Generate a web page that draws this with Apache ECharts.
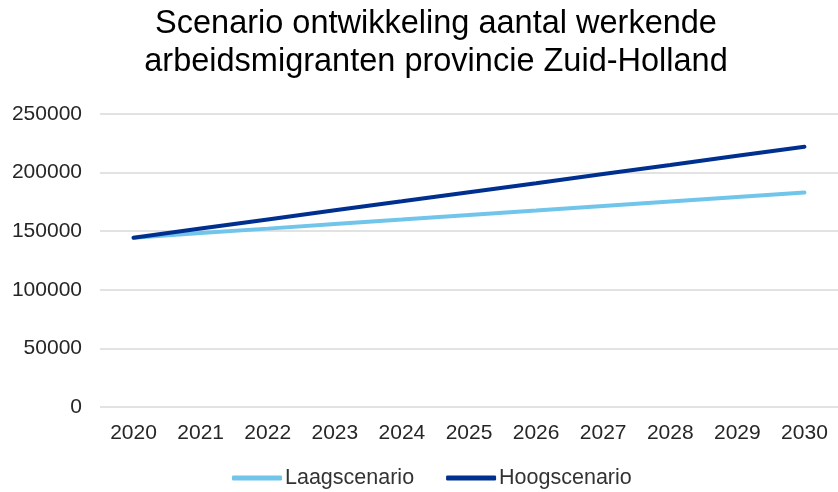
<!DOCTYPE html>
<html>
<head>
<meta charset="utf-8">
<script src="https://cdn.jsdelivr.net/npm/echarts@6/dist/echarts.min.js"></script>
<style>html,body{margin:0;padding:0;background:#fff}#c{width:838px;height:492px}</style>
</head>
<body>
<div id="c"></div>
<script>
const categories = ['2020','2021','2022','2023','2024','2025','2026','2027','2028','2029','2030'];
const laagscenario = [144500,148400,152200,156100,159900,163800,167600,171500,175300,179200,183000];
const hoogscenario = [144500,152300,160000,167800,175500,183300,191000,198800,206500,214300,222000];
const yTicks = [0,50000,100000,150000,200000,250000];

const chart = echarts.init(document.getElementById('c'));
const font = '"Liberation Sans", Arial, sans-serif';
chart.setOption({
  animation:false,
  title:{
    text:'Scenario ontwikkeling aantal werkende\narbeidsmigranten provincie Zuid-Holland',
    left: 431, textAlign:'center', top:0,
    textStyle:{fontFamily:font,fontSize:32.5,fontWeight:'normal',color:'#000',lineHeight:38}
  },
  legend:{
    top:462, left:227, itemWidth:50, itemHeight:5, itemGap:32,
    icon:'roundRect',
    textStyle:{fontFamily:font,fontSize:21.5,color:'#333',padding:[0,0,0,-2]},
    data:['Laagscenario','Hoogscenario']
  },
  grid:{left:100,right:0,top:114,bottom:85,containLabel:false},
  xAxis:{
    type:'category', data:categories, boundaryGap:true,
    axisLine:{show:false}, axisTick:{show:false},
    axisLabel:{fontFamily:font,fontSize:21,color:'#262626',margin:16}
  },
  yAxis:{
    type:'value', min:yTicks[0], max:yTicks[yTicks.length-1], interval:50000,
    axisLine:{show:false}, axisTick:{show:false},
    splitLine:{lineStyle:{color:'#d9d9d9',width:1.5}},
    axisLabel:{fontFamily:font,fontSize:21,color:'#262626',margin:18,formatter:function(v){return String(v);}}
  },
  series:[
    {name:'Laagscenario',type:'line',data:laagscenario,symbol:'none',
     lineStyle:{color:'#71c5ea',width:4,cap:'round'},itemStyle:{color:'#71c5ea'}},
    {name:'Hoogscenario',type:'line',data:hoogscenario,symbol:'none',
     lineStyle:{color:'#00308f',width:4,cap:'round'},itemStyle:{color:'#00308f'}}
  ]
});
</script>
</body>
</html>
